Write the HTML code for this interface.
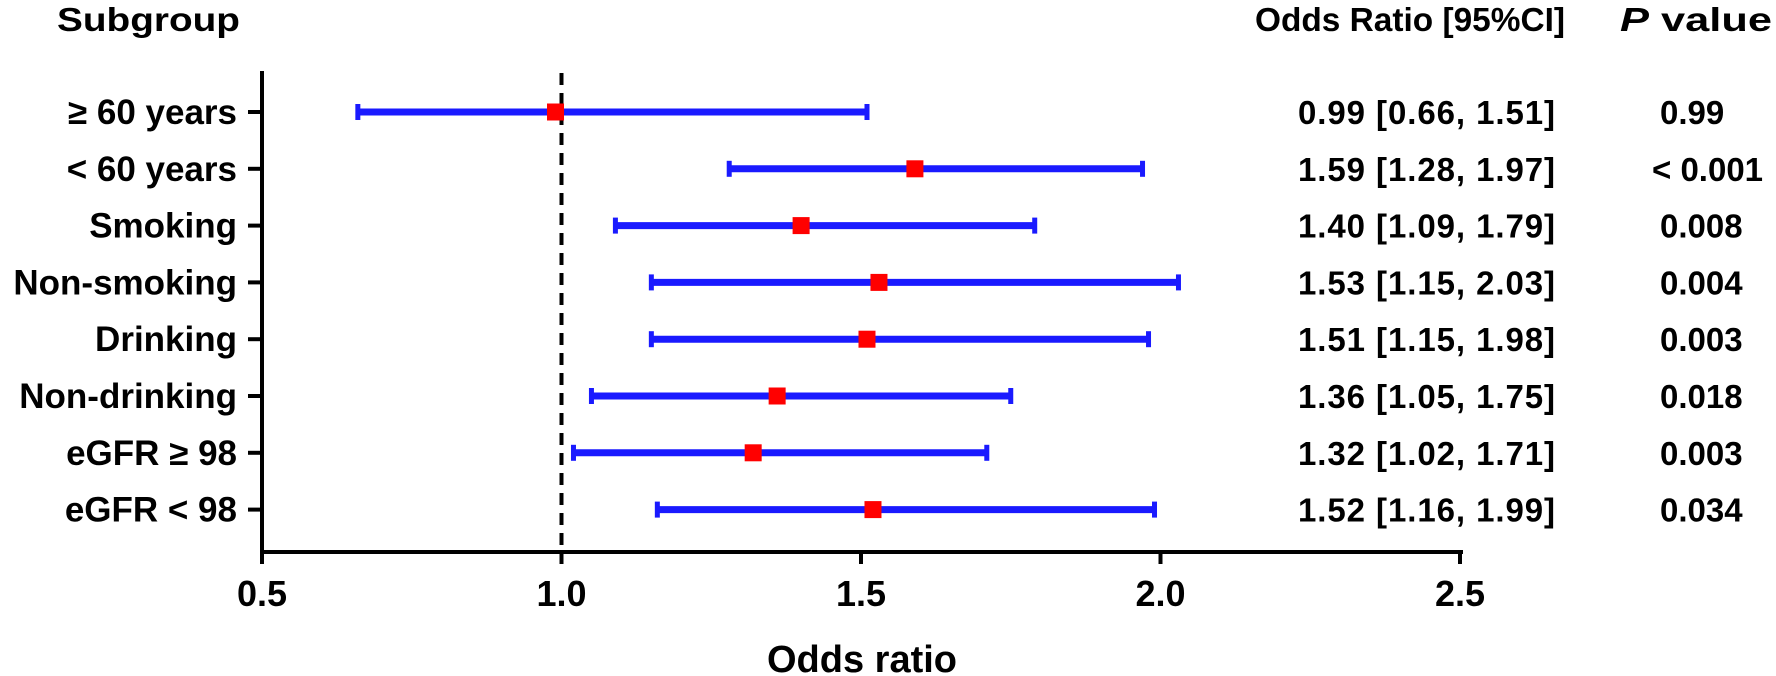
<!DOCTYPE html>
<html><head><meta charset="utf-8"><style>
html,body{margin:0;padding:0;background:#fff;}
svg{display:block;}
text{font-family:"Liberation Sans",Arial,sans-serif;font-weight:bold;fill:#000;}
</style></head><body>
<svg width="1776" height="676" viewBox="0 0 1776 676" xmlns="http://www.w3.org/2000/svg">
<text x="57" y="31" font-size="33" textLength="183" lengthAdjust="spacingAndGlyphs">Subgroup</text>
<text x="1255" y="31" font-size="33" textLength="310" lengthAdjust="spacingAndGlyphs">Odds Ratio [95%CI]</text>
<text x="1620" y="31" font-size="33" textLength="152" lengthAdjust="spacingAndGlyphs"><tspan font-style="italic">P</tspan> value</text>
<line x1="262" y1="71" x2="262" y2="554" stroke="#000" stroke-width="4"/>
<line x1="260" y1="552" x2="1463" y2="552" stroke="#000" stroke-width="4"/>
<g stroke="#000" stroke-width="4">
<line x1="262" y1="552" x2="262" y2="564"/><line x1="561.5" y1="552" x2="561.5" y2="564"/>
<line x1="861" y1="552" x2="861" y2="564"/><line x1="1160.5" y1="552" x2="1160.5" y2="564"/>
<line x1="1460" y1="552" x2="1460" y2="564"/>
</g>
<g font-size="36" text-anchor="middle">
<text x="262" y="606">0.5</text><text x="561.5" y="606">1.0</text><text x="861" y="606">1.5</text>
<text x="1160.5" y="606">2.0</text><text x="1460" y="606">2.5</text>
</g>
<text x="862" y="672" font-size="38" text-anchor="middle">Odds ratio</text>
<line x1="561.5" y1="73" x2="561.5" y2="552" stroke="#000" stroke-width="4" stroke-dasharray="12,8"/>
<g id="rows"></g>
</svg>
<script>
var rows=[["≥ 60 years",0.99,0.66,1.51,"0.99"],["< 60 years",1.59,1.28,1.97,"< 0.001"],["Smoking",1.40,1.09,1.79,"0.008"],["Non-smoking",1.53,1.15,2.03,"0.004"],["Drinking",1.51,1.15,1.98,"0.003"],["Non-drinking",1.36,1.05,1.75,"0.018"],["eGFR ≥ 98",1.32,1.02,1.71,"0.003"],["eGFR < 98",1.52,1.16,1.99,"0.034"]];
function X(v){return 262+(v-0.5)*599;}
var s="";
rows.forEach(function(r,i){var y=112+i*56.8;
function f(v){return v.toFixed(2);}
s+='<line x1="248" y1="'+y+'" x2="262" y2="'+y+'" stroke="#000" stroke-width="4"/>';
s+='<text x="237" y="'+(y+12)+'" font-size="35" text-anchor="end">'+r[0].replace(/</g,"&lt;")+'</text>';
s+='<line x1="'+X(r[2])+'" y1="'+y+'" x2="'+X(r[3])+'" y2="'+y+'" stroke="#1a1aff" stroke-width="7"/>';
s+='<rect x="'+(X(r[2])-2.5)+'" y="'+(y-8)+'" width="5" height="16" fill="#1a1aff"/>';
s+='<rect x="'+(X(r[3])-2.5)+'" y="'+(y-8)+'" width="5" height="16" fill="#1a1aff"/>';
s+='<rect x="'+(X(r[1])-8.5)+'" y="'+(y-8.5)+'" width="17" height="17" fill="#ff0000"/>';
s+='<text x="1298" y="'+(y+12)+'" font-size="33" textLength="257" lengthAdjust="spacing">'+f(r[1])+' ['+f(r[2])+', '+f(r[3])+']</text>';
var px=r[4].charAt(0)=="<"?1652:1660;
s+='<text x="'+px+'" y="'+(y+12)+'" font-size="33">'+r[4].replace(/</g,"&lt;")+'</text>';
});
document.getElementById("rows").innerHTML=s;
</script>
</body></html>
